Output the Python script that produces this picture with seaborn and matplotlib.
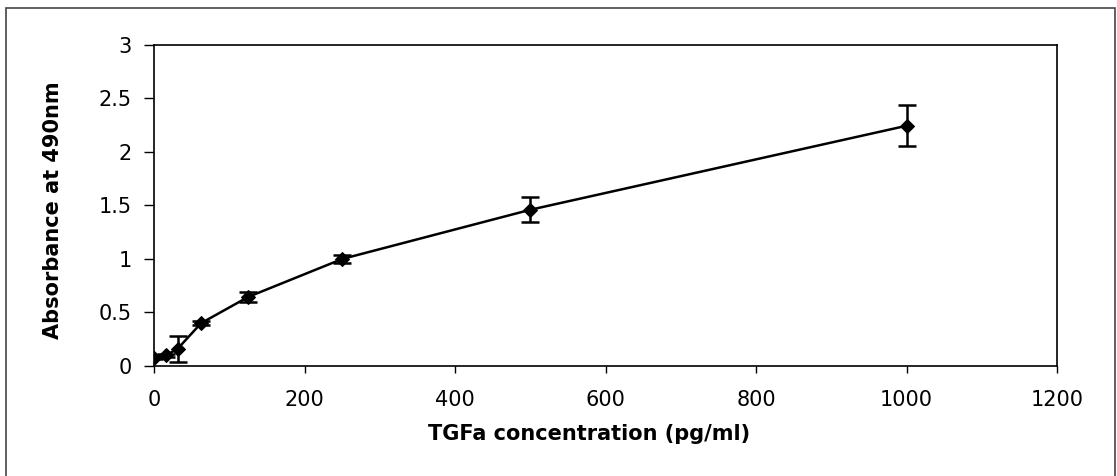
import matplotlib
matplotlib.use("Agg")
import matplotlib.pyplot as plt
import matplotlib.ticker as mticker
from matplotlib.patches import Rectangle
import seaborn as sns
import pandas as pd

# curva padrão TGFa
concentracao = [0, 15.6, 31.25, 62.5, 125, 250, 500, 1000]
absorbancia = [0.075, 0.10, 0.16, 0.40, 0.645, 1.00, 1.46, 2.245]
erro = [0.01, 0.015, 0.12, 0.02, 0.045, 0.035, 0.115, 0.19]

x_ticks = [0, 200, 400, 600, 800, 1000, 1200]
y_ticks = [0, 0.5, 1, 1.5, 2, 2.5, 3]

df = pd.DataFrame({'conc': concentracao, 'abs': absorbancia, 'err': erro})

sns.set_theme(style="ticks")
plt.rcParams['font.family'] = ['DejaVu Sans']
plt.rcParams['text.color'] = 'black'
plt.rcParams['axes.labelcolor'] = 'black'
plt.rcParams['xtick.color'] = 'black'
plt.rcParams['ytick.color'] = 'black'

fig = plt.figure(figsize=(11.17, 4.76), dpi=100)
ax = fig.add_axes([0.1379, 0.2311, 0.8084, 0.6744])

# linha + losangos
sns.lineplot(data=df, x='conc', y='abs', ax=ax, color='black', linewidth=1.8,
             marker='D', markersize=7, markeredgecolor='black', markerfacecolor='black')
# barras de erro
ax.errorbar(df['conc'], df['abs'], yerr=df['err'], fmt='none', ecolor='black',
            elinewidth=1.8, capsize=6.5, capthick=1.8)

ax.set_xlim(0, 1200)
ax.set_ylim(0, 3)
ax.set_xticks(x_ticks)
ax.set_yticks(y_ticks)
ax.yaxis.set_major_formatter(mticker.FuncFormatter(lambda v, p: f'{v:g}'))
ax.tick_params(axis='both', direction='out', color='black', labelcolor='black',
               labelsize=15, width=1)
ax.tick_params(axis='x', length=5, pad=12)
ax.tick_params(axis='y', length=7, pad=9)

for s in ax.spines.values():
    s.set_visible(True)
    s.set_color('black')
    s.set_linewidth(1.2)

ax.set_xlabel('TGFa concentration (pg/ml)', fontsize=15, fontweight='bold', color='black')
ax.xaxis.set_label_coords(0.482, -0.18)
ax.set_ylabel('Absorbance at 490nm', fontsize=15, fontweight='bold', color='black')
ax.yaxis.set_label_coords(-0.101, 0.486)

# moldura externa
fig.patches.append(Rectangle((6 / 1117, -0.05), 1109 / 1117, 1.05 - 8 / 476,
                             transform=fig.transFigure, fill=False,
                             edgecolor='#444444', linewidth=1.2))

fig.savefig('out.png', dpi=100, facecolor='white')
